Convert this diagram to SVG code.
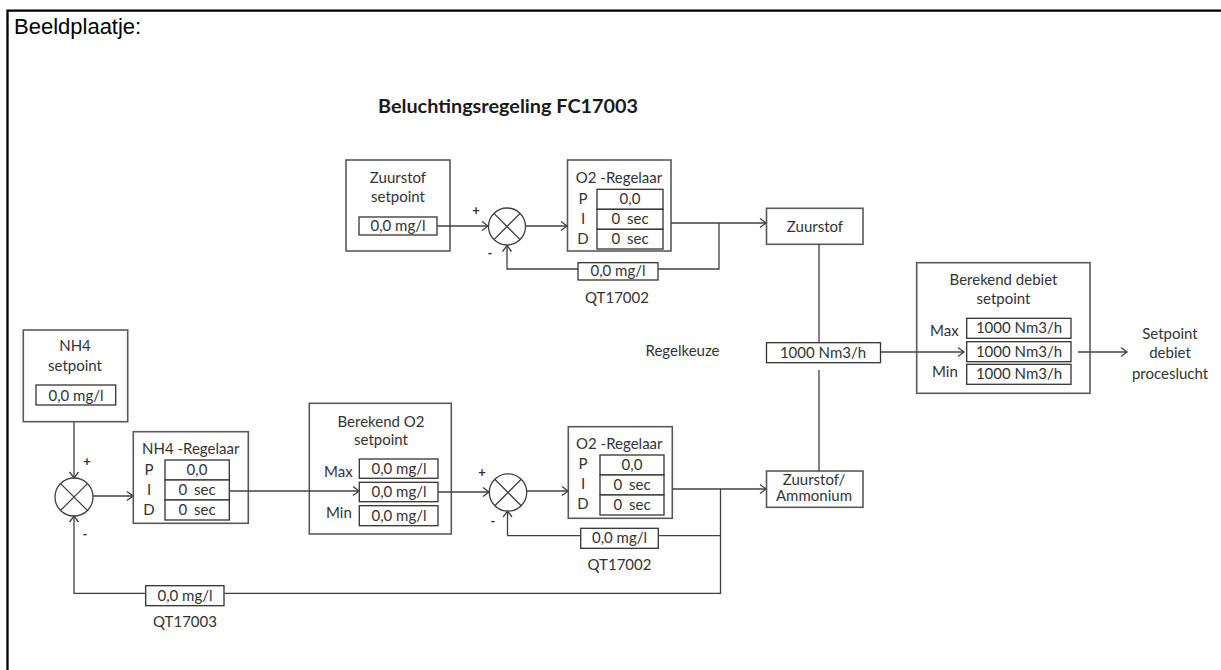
<svg xmlns="http://www.w3.org/2000/svg" width="1221" height="670" viewBox="0 0 1221 670">
<style>
.box{fill:#fff;stroke:#595959;stroke-width:1.6}
.fld{fill:#fff;stroke:#333;stroke-width:1.3}
.ln{fill:none;stroke:#404040;stroke-width:1.3}
.sum{fill:#fff;stroke:#404040;stroke-width:1.3}
.t{font-family:Lato,"Open Sans",sans-serif;font-size:15px;fill:#333;text-anchor:middle}
.l{font-family:Lato,"Open Sans",sans-serif;font-size:15px;fill:#333}
.s{font-family:Lato,sans-serif;font-size:13px;font-weight:bold;fill:#333;text-anchor:middle}
</style>
<defs>
<marker id="ar" markerUnits="userSpaceOnUse" markerWidth="10" markerHeight="12" refX="7" refY="5" orient="auto">
<path d="M1,0.5 L7,5 L1,9.5" fill="none" stroke="#404040" stroke-width="1.3"/>
</marker>
</defs>
<rect width="1221" height="670" fill="#fff"/>
<path d="M7.5,670 V10.7 H1221" fill="none" stroke="#000" stroke-width="2.3"/>
<text x="14" y="34" font-family="Liberation Sans,Arial,sans-serif" font-size="22" fill="#000">Beeldplaatje:</text>
<text x="378" y="113" font-family="Lato,sans-serif" font-size="18" font-weight="bold" fill="#1a1a1a" textLength="260" lengthAdjust="spacingAndGlyphs">Beluchtingsregeling FC17003</text>

<g id="zuurstof-setpoint">
<rect class="box" x="346" y="160" width="104" height="91"/>
<text class="t" x="398" y="183">Zuurstof</text>
<text class="t" x="398" y="202">setpoint</text>
<rect class="fld" x="359" y="217" width="78" height="18"/>
<text class="t" x="398" y="231">0,0 mg/l</text>
</g>

<g id="sum-top">
<circle class="sum" cx="507" cy="226.5" r="18.5"/>
<path class="ln" d="M493.9,213.4 L520.1,239.6 M520.1,213.4 L493.9,239.6"/>
<text class="s" x="476" y="215">+</text>
<text class="s" x="490" y="258">-</text>
</g>

<g id="o2-regelaar-top">
<rect class="box" x="567.5" y="160" width="103.5" height="91"/>
<text class="t" x="619" y="183">O2 -Regelaar</text>
<rect class="fld" x="597" y="189.3" width="66" height="20"/>
<rect class="fld" x="597" y="209.3" width="66" height="20"/>
<rect class="fld" x="597" y="229.3" width="66" height="19.7"/>
<text class="t" x="583" y="203.5">P</text>
<text class="t" x="583" y="223.5">I</text>
<text class="t" x="583" y="243.5">D</text>
<text class="t" x="630" y="204">0,0</text>
<text class="t" x="630" y="224" word-spacing="3">0 sec</text>
<text class="t" x="630" y="244" word-spacing="3">0 sec</text>
</g>

<g id="qt17002-top">
<rect class="fld" x="578" y="262.7" width="80" height="17.3"/>
<text class="t" x="618" y="276">0,0 mg/l</text>
<text class="t" x="617" y="303">QT17002</text>
</g>

<g id="zuurstof">
<rect class="box" x="766.5" y="208.3" width="96.5" height="36"/>
<text class="t" x="815" y="231.5">Zuurstof</text>
</g>

<g id="regelkeuze">
<text class="l" x="645.5" y="355.5">Regelkeuze</text>
<rect class="fld" x="766.5" y="342.7" width="114" height="20"/>
<text class="t" x="823" y="357.5">1000 Nm3/h</text>
</g>

<g id="zuurstof-ammonium">
<rect class="box" x="766.5" y="471" width="96.5" height="36.3"/>
<text class="t" x="814" y="485" font-size="13">Zuurstof/</text>
<text class="t" x="814" y="501" font-size="13">Ammonium</text>
</g>

<g id="berekend-debiet">
<rect class="box" x="916.7" y="262.7" width="173.3" height="130.6"/>
<text class="t" x="1003.5" y="285">Berekend debiet</text>
<text class="t" x="1003.5" y="304">setpoint</text>
<text class="l" x="930" y="336">Max</text>
<text class="l" x="932" y="376.5">Min</text>
<rect class="fld" x="966.7" y="318.3" width="104.3" height="20"/>
<rect class="fld" x="966.7" y="341.7" width="104.3" height="20"/>
<rect class="fld" x="966.7" y="364.3" width="104.3" height="20"/>
<text class="t" x="1019" y="333">1000 Nm3/h</text>
<text class="t" x="1019" y="356.5">1000 Nm3/h</text>
<text class="t" x="1019" y="379">1000 Nm3/h</text>
</g>

<g id="setpoint-debiet">
<text class="t" x="1170" y="339">Setpoint</text>
<text class="t" x="1170" y="358">debiet</text>
<text class="t" x="1170" y="379">proceslucht</text>
</g>

<g id="nh4-setpoint">
<rect class="box" x="23.3" y="330" width="104.4" height="91.7"/>
<text class="t" x="75" y="351">NH4</text>
<text class="t" x="75" y="371">setpoint</text>
<rect class="fld" x="36" y="385" width="79.7" height="20"/>
<text class="t" x="76" y="400.5">0,0 mg/l</text>
</g>

<g id="sum-nh4">
<circle class="sum" cx="74" cy="497" r="19"/>
<path class="ln" d="M60.6,483.6 L87.4,510.4 M87.4,483.6 L60.6,510.4"/>
<text class="s" x="87" y="466">+</text>
<text class="s" x="85" y="539">-</text>
</g>

<g id="nh4-regelaar">
<rect class="box" x="133.3" y="431.7" width="115" height="91.6"/>
<text class="t" x="190.7" y="454">NH4 -Regelaar</text>
<rect class="fld" x="165" y="460" width="64.3" height="20"/>
<rect class="fld" x="165" y="480" width="64.3" height="20"/>
<rect class="fld" x="165" y="500" width="64.3" height="20"/>
<text class="t" x="149" y="474.5">P</text>
<text class="t" x="149" y="494.5">I</text>
<text class="t" x="149" y="515">D</text>
<text class="t" x="197" y="475">0,0</text>
<text class="t" x="197" y="495" word-spacing="3">0 sec</text>
<text class="t" x="197" y="515" word-spacing="3">0 sec</text>
</g>

<g id="qt17003">
<rect class="fld" x="145.7" y="585.7" width="78.3" height="20"/>
<text class="t" x="185" y="600.5">0,0 mg/l</text>
<text class="t" x="185" y="627">QT17003</text>
</g>

<g id="berekend-o2">
<rect class="box" x="309.3" y="403.3" width="142" height="130.7"/>
<text class="t" x="381" y="427">Berekend O2</text>
<text class="t" x="381" y="445">setpoint</text>
<text class="l" x="324" y="477">Max</text>
<text class="l" x="326" y="517.5">Min</text>
<rect class="fld" x="359.3" y="459" width="78.7" height="19.3"/>
<rect class="fld" x="359.3" y="482.3" width="78.7" height="19.4"/>
<rect class="fld" x="359.3" y="505.7" width="78.7" height="20"/>
<text class="t" x="399" y="474">0,0 mg/l</text>
<text class="t" x="399" y="497">0,0 mg/l</text>
<text class="t" x="399" y="520.5">0,0 mg/l</text>
</g>

<g id="sum-bottom">
<circle class="sum" cx="508" cy="492.5" r="18.7"/>
<path class="ln" d="M494.8,479.3 L521.2,505.7 M521.2,479.3 L494.8,505.7"/>
<text class="s" x="482" y="477">+</text>
<text class="s" x="493" y="526">-</text>
</g>

<g id="o2-regelaar-bottom">
<rect class="box" x="568.3" y="426.7" width="104" height="91.6"/>
<text class="t" x="619.3" y="449">O2 -Regelaar</text>
<rect class="fld" x="600" y="455" width="64" height="20"/>
<rect class="fld" x="600" y="475" width="64" height="20"/>
<rect class="fld" x="600" y="495" width="64" height="20"/>
<text class="t" x="583" y="469">P</text>
<text class="t" x="583" y="489">I</text>
<text class="t" x="583" y="509">D</text>
<text class="t" x="632" y="470">0,0</text>
<text class="t" x="632" y="490" word-spacing="3">0 sec</text>
<text class="t" x="632" y="510" word-spacing="3">0 sec</text>
</g>

<g id="qt17002-bottom">
<rect class="fld" x="580.7" y="528.3" width="77.6" height="20"/>
<text class="t" x="619.5" y="543">0,0 mg/l</text>
<text class="t" x="619.5" y="570">QT17002</text>
</g>

<g id="connectors">
<path class="ln" d="M437,226 H488" marker-end="url(#ar)"/>
<path class="ln" d="M526,226 H567" marker-end="url(#ar)"/>
<path class="ln" d="M671,223 H766" marker-end="url(#ar)"/>
<path class="ln" d="M719,223 V269 H658"/>
<path class="ln" d="M578,269 H507 V245.5" marker-end="url(#ar)"/>
<path class="ln" d="M819,244 V342.7"/>
<path class="ln" d="M819,370 V471"/>
<path class="ln" d="M880.5,352 H964" marker-end="url(#ar)"/>
<path class="ln" d="M1078,352 H1127" marker-end="url(#ar)"/>
<path class="ln" d="M74,422 V478" marker-end="url(#ar)"/>
<path class="ln" d="M93,496 H133" marker-end="url(#ar)"/>
<path class="ln" d="M229,491 H359" marker-end="url(#ar)"/>
<path class="ln" d="M438,492 H489" marker-end="url(#ar)"/>
<path class="ln" d="M527,491 H568" marker-end="url(#ar)"/>
<path class="ln" d="M672,489 H766" marker-end="url(#ar)"/>
<path class="ln" d="M720.5,489 V593.3 H224"/>
<path class="ln" d="M145.7,593.3 H74 V516" marker-end="url(#ar)"/>
<path class="ln" d="M720.5,535.7 H658.3"/>
<path class="ln" d="M580.7,535.7 H507.5 V511" marker-end="url(#ar)"/>
</g>
</svg>
